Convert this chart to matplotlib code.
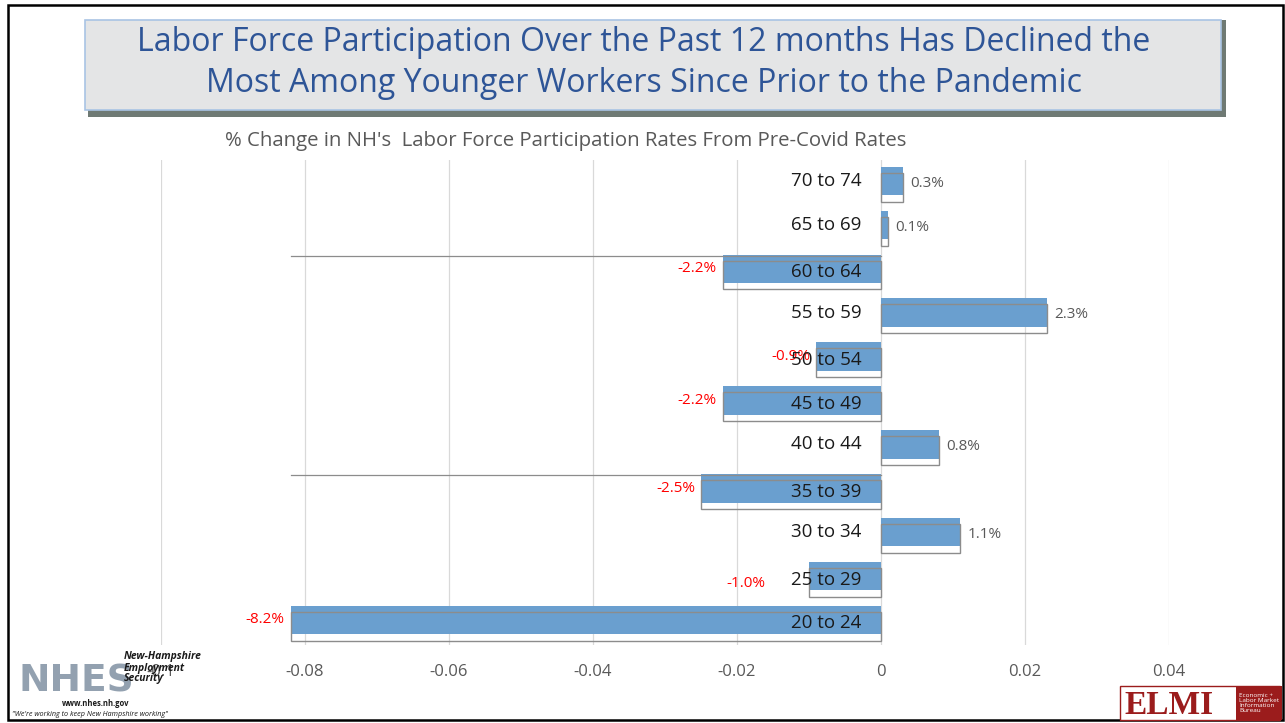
import matplotlib

matplotlib.use("Agg")
import matplotlib.pyplot as plt
from matplotlib.patches import Rectangle
import numpy as np

plt.rcParams["font.family"] = ["Open Sans", "DejaVu Sans"]

# data, bottom to top
groups = ["20 to 24", "25 to 29", "30 to 34", "35 to 39", "40 to 44", "45 to 49",
          "50 to 54", "55 to 59", "60 to 64", "65 to 69", "70 to 74"]
change = [-0.082, -0.010, 0.011, -0.025, 0.008, -0.022,
          -0.009, 0.023, -0.022, 0.001, 0.003]
xticks = [-0.1, -0.08, -0.06, -0.04, -0.02, 0, 0.02, 0.04]
xtick_labels = ["-0.1", "-0.08", "-0.06", "-0.04", "-0.02", "0", "0.02", "0.04"]
stray_line_groups = ["60 to 64", "35 to 39"]

TITLE = ("Labor Force Participation Over the Past 12 months Has Declined the\n"
         "Most Among Younger Workers Since Prior to the Pandemic")
SUBTITLE = "% Change in NH's  Labor Force Participation Rates From Pre-Covid Rates"

BLUE = "#6A9FCF"
W, H = 1285, 723

fig = plt.figure(figsize=(W / 100, H / 100), dpi=100)
fig.patch.set_facecolor("white")
fig.add_artist(Rectangle((8 / W, 3 / H), 1275 / W, 715 / H, transform=fig.transFigure,
                         fill=False, edgecolor="black", linewidth=1.8))

# title box with bevel shadow
fig.add_artist(Rectangle((88 / W, 1 - 117 / H), 1138 / W, 97 / H, transform=fig.transFigure,
                         facecolor="#6f7a74", edgecolor="none"))
fig.add_artist(Rectangle((85 / W, 1 - 110 / H), 1136 / W, 90 / H, transform=fig.transFigure,
                         facecolor="#e4e5e6", edgecolor="#a9c4e4", linewidth=1.2))
fig.text(644 / W, 1 - 63 / H, TITLE, ha="center", va="center", fontsize=23,
         color="#2E5597", linespacing=1.33)

ax = fig.add_axes([161 / W, 1 - 645 / H, (1169 - 161) / W, (645 - 160) / H])
y = np.arange(len(groups))
ax.set_xlim(-0.1, 0.04)
ax.set_ylim(-0.57, 10.48)

ax.barh(y, change, height=0.65, color=BLUE, zorder=2)
# offset outlines and stray lines as in the source image
ax.barh(y - 0.14, change, height=0.66, fill=False, edgecolor="#8c8c8c",
        linewidth=1.0, zorder=3)
for yi, g in zip(y, groups):
    if g in stray_line_groups:
        ax.plot([min(change), 0], [yi + 0.3, yi + 0.3], color="#8c8c8c",
                linewidth=0.9, zorder=3)

for yi, v, g in zip(y, change, groups):
    if v >= 0:
        ax.text(v + 0.001, yi - 0.05, f"{v * 100:.1f}%", ha="left", va="center",
                fontsize=11, color="#595959", zorder=4)
        ax.text(-0.0027, yi, g, ha="right", va="center", fontsize=13.5,
                color="#1a1a1a", zorder=4)
    else:
        lx, ly = v - 0.0008, yi
        if g == "25 to 29":
            # this label sits lower and further left in the source
            lx, ly = v - 0.006, yi - 0.18
        ax.text(lx, ly, f"{v * 100:.1f}%", ha="right", va="center",
                fontsize=11, color="#ff0000", zorder=4)
        ax.text(-0.0027, yi - 0.08, g, ha="right", va="center", fontsize=13.5,
                color="#1a1a1a", zorder=4)

ax.set_xticks(xticks)
ax.set_xticklabels(xtick_labels, fontsize=12, color="#595959")
ax.set_yticks([])
ax.grid(axis="x", color="#d9d9d9", linewidth=0.9, zorder=0)
ax.tick_params(axis="x", length=0, pad=14)
for s in ax.spines.values():
    s.set_visible(False)

fig.text(225 / W, 1 - 141 / H, SUBTITLE, ha="left", va="center", fontsize=14.7,
         color="#595959")

# NHES logo (approximation)
fig.text(18 / W, 1 - 682 / H, "NHES", ha="left", va="center", fontsize=27,
         color="#8797a8", fontweight="bold", family="DejaVu Sans", alpha=0.9)
fig.text(124 / W, 1 - 668 / H, "New-Hampshire\nEmployment\nSecurity", ha="left", va="center",
         fontsize=7.5, color="#1a1a1a", fontweight="bold", fontstyle="italic",
         linespacing=1.0)
fig.text(62 / W, 1 - 704 / H, "www.nhes.nh.gov", ha="left", va="center", fontsize=5.5,
         color="#1a1a1a", fontweight="bold")
fig.text(12 / W, 1 - 714 / H, "\"We're working to keep New Hampshire working\"", ha="left",
         va="center", fontsize=5.2, color="#1a1a1a", fontstyle="italic")

# ELMI logo (approximation)
fig.add_artist(Rectangle((1120 / W, 1 - 720 / H), 160 / W, 34 / H, transform=fig.transFigure,
                         facecolor="white", edgecolor="#9b1c1c", linewidth=1))
fig.text(1124 / W, 1 - 706 / H, "ELMI", ha="left", va="center", fontsize=24,
         color="#9b1c1c", fontweight="bold", family="Liberation Serif")
fig.add_artist(Rectangle((1236 / W, 1 - 720 / H), 46 / W, 34 / H, transform=fig.transFigure,
                         facecolor="#9b1c1c", edgecolor="none"))
fig.text(1239 / W, 1 - 703 / H, "Economic +\nLabor Market\nInformation\nBureau", ha="left",
         va="center", fontsize=4.6, color="white", linespacing=1.0)

fig.savefig("out.png", dpi=100)
